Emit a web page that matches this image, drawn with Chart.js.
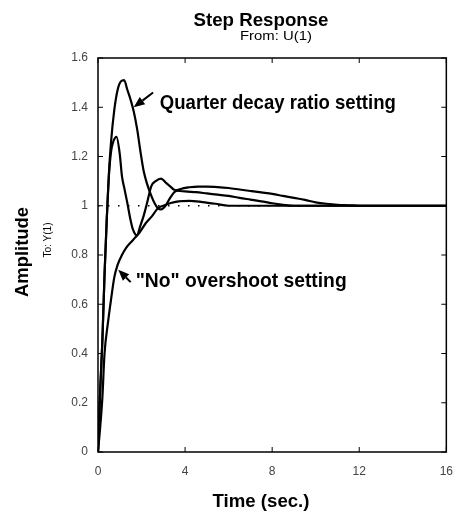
<!DOCTYPE html>
<html>
<head>
<meta charset="utf-8">
<script src="https://cdn.jsdelivr.net/npm/chart.js@4/dist/chart.umd.min.js"></script>
<style>
  html, body { margin: 0; padding: 0; background: #fff; }
  canvas { display: block; }
</style>
</head>
<body>
<canvas id="stepChart" width="465" height="516"></canvas>
<script>
// Step response data
const timeQuarter = [0, 0.1, 0.2, 0.3, 0.4, 0.5, 0.6, 0.75, 0.9, 1.05, 1.2, 1.35, 1.5, 1.65, 1.8, 1.95, 2.1, 2.25, 2.45, 2.6, 2.75, 2.9, 3.1, 3.3, 3.5, 3.8, 4.2, 4.6, 5, 5.5, 6, 6.5, 7, 7.5, 8, 8.5, 9, 9.5, 10, 10.5, 11, 11.5, 12, 13, 14, 15, 16];
const ampQuarter  = [0, 0.25, 0.45, 0.72, 0.94, 1.13, 1.26, 1.39, 1.47, 1.505, 1.51, 1.47, 1.43, 1.38, 1.31, 1.22, 1.14, 1.09, 1.04, 1.01, 0.99, 0.985, 1.0, 1.03, 1.055, 1.068, 1.075, 1.078, 1.078, 1.076, 1.072, 1.066, 1.06, 1.054, 1.048, 1.04, 1.032, 1.024, 1.014, 1.008, 1.004, 1.002, 1.0, 1.0, 1.0, 1.0, 1.0];

const timeMid = [0, 0.1, 0.2, 0.3, 0.4, 0.5, 0.6, 0.7, 0.85, 1.0, 1.1, 1.2, 1.35, 1.5, 1.6, 1.78, 1.95, 2.1, 2.25, 2.45, 2.65, 2.9, 3.1, 3.3, 3.5, 4, 4.5, 5, 5.5, 6, 6.5, 7, 7.5, 8, 8.5, 9, 16];
const ampMid  = [0, 0.25, 0.45, 0.72, 0.94, 1.12, 1.22, 1.26, 1.28, 1.21, 1.12, 1.075, 1.01, 0.94, 0.905, 0.88, 0.92, 0.96, 1.01, 1.08, 1.10, 1.11, 1.095, 1.08, 1.065, 1.058, 1.055, 1.05, 1.045, 1.04, 1.032, 1.025, 1.018, 1.01, 1.004, 1.0, 1.0];

const timeNoOver = [0, 0.1, 0.2, 0.3, 0.45, 0.6, 0.75, 0.9, 1.1, 1.3, 1.6, 1.9, 2.2, 2.5, 2.75, 3.0, 3.3, 3.7, 4.2, 4.8, 5.4, 6, 7, 16];
const ampNoOver  = [0, 0.1, 0.22, 0.4, 0.52, 0.62, 0.71, 0.76, 0.8, 0.83, 0.86, 0.89, 0.93, 0.96, 0.99, 1.0, 1.01, 1.018, 1.02, 1.015, 1.008, 1.0, 1.0, 1.0];

const refTime = [0, 16];
const refAmp = [1, 1];

const xTicks = [0, 4, 8, 12, 16];
const yTicks = [0, 0.2, 0.4, 0.6, 0.8, 1, 1.2, 1.4, 1.6];

const FONT = '"Liberation Sans", Arial, Helvetica, sans-serif';

function toPoints(xs, ys) {
    return xs.map((x, i) => ({ x: x, y: ys[i] }));
}

function curve(xs, ys) {
    return {
        data: toPoints(xs, ys),
        borderColor: '#000',
        borderWidth: 2.2,
        pointRadius: 0,
        cubicInterpolationMode: 'monotone',
        fill: false
    };
}

// draw text squeezed or stretched to a target width
function fitText(ctx, text, x, y, font, width, align, angle) {
    ctx.save();
    ctx.font = font;
    const sx = width / ctx.measureText(text).width;
    ctx.translate(x, y);
    if (angle) ctx.rotate(angle);
    ctx.scale(sx, 1);
    ctx.textAlign = align;
    ctx.textBaseline = 'alphabetic';
    ctx.fillStyle = '#000';
    ctx.fillText(text, 0, 0);
    ctx.restore();
}

function arrow(ctx, x1, y1, x2, y2) {
    const ang = Math.atan2(y2 - y1, x2 - x1);
    const head = 11, half = 4.5;
    ctx.save();
    ctx.strokeStyle = '#000';
    ctx.fillStyle = '#000';
    ctx.lineWidth = 2;
    ctx.beginPath();
    ctx.moveTo(x1, y1);
    ctx.lineTo(x2 - head * Math.cos(ang), y2 - head * Math.sin(ang));
    ctx.stroke();
    ctx.beginPath();
    ctx.moveTo(x2, y2);
    ctx.lineTo(x2 - head * Math.cos(ang) + half * Math.sin(ang), y2 - head * Math.sin(ang) - half * Math.cos(ang));
    ctx.lineTo(x2 - head * Math.cos(ang) - half * Math.sin(ang), y2 - head * Math.sin(ang) + half * Math.cos(ang));
    ctx.closePath();
    ctx.fill();
    ctx.restore();
}

const decorations = {
    id: 'decorations',
    afterDraw(chart) {
        const ctx = chart.ctx;
        const a = chart.chartArea;
        const xs = chart.scales.x, ys = chart.scales.y;

        // box and inward ticks, matlab style
        ctx.save();
        ctx.strokeStyle = '#000';
        ctx.lineWidth = 1.5;
        ctx.strokeRect(a.left, a.top, a.right - a.left, a.bottom - a.top);
        ctx.lineWidth = 1;
        ctx.beginPath();
        xTicks.forEach(v => {
            const px = xs.getPixelForValue(v);
            ctx.moveTo(px, a.bottom); ctx.lineTo(px, a.bottom - 5);
            ctx.moveTo(px, a.top); ctx.lineTo(px, a.top + 5);
        });
        yTicks.forEach(v => {
            const py = ys.getPixelForValue(v);
            ctx.moveTo(a.left, py); ctx.lineTo(a.left + 5, py);
            ctx.moveTo(a.right, py); ctx.lineTo(a.right - 5, py);
        });
        ctx.stroke();
        ctx.restore();

        // titles
        fitText(ctx, 'Step Response', 261, 26, 'bold 19px ' + FONT, 135, 'center');
        fitText(ctx, 'From: U(1)', 276, 40, '12px ' + FONT, 72, 'center');
        fitText(ctx, 'Time (sec.)', 261, 507, 'bold 18px ' + FONT, 97, 'center');
        fitText(ctx, 'Amplitude', 28, 252, 'bold 18px ' + FONT, 90, 'center', -Math.PI / 2);
        fitText(ctx, 'To: Y(1)', 51, 240, '11px ' + FONT, 35, 'center', -Math.PI / 2);

        // annotations
        arrow(ctx, xs.getPixelForValue(2.53), ys.getPixelForValue(1.46),
                   xs.getPixelForValue(1.64), ys.getPixelForValue(1.40));
        fitText(ctx, 'Quarter decay ratio setting', xs.getPixelForValue(2.84), ys.getPixelForValue(1.394),
                'bold 21px ' + FONT, 236, 'left');
        arrow(ctx, xs.getPixelForValue(1.5), ys.getPixelForValue(0.69),
                   xs.getPixelForValue(0.93), ys.getPixelForValue(0.74));
        fitText(ctx, '"No" overshoot setting', xs.getPixelForValue(1.73), ys.getPixelForValue(0.67),
                'bold 21px ' + FONT, 211, 'left');
    }
};

const refLine = {
    data: toPoints(refTime, refAmp),
    borderColor: '#000',
    borderWidth: 1.5,
    borderDash: [1.5, 8.5],
    pointRadius: 0,
    fill: false
};

new Chart(document.getElementById('stepChart'), {
    type: 'line',
    data: {
        datasets: [
            refLine,
            curve(timeNoOver, ampNoOver),
            curve(timeMid, ampMid),
            curve(timeQuarter, ampQuarter)
        ]
    },
    options: {
        responsive: false,
        animation: false,
        devicePixelRatio: 1,
        layout: { padding: { top: 58, right: 7, left: 0, bottom: 0 } },
        plugins: { legend: { display: false }, tooltip: { enabled: false } },
        scales: {
            x: {
                type: 'linear',
                min: 0, max: 16,
                afterFit: scale => { scale.height = 64; },
                afterBuildTicks: scale => { scale.ticks = xTicks.map(v => ({ value: v })); },
                grid: { display: false, drawTicks: false },
                border: { display: false },
                ticks: { color: '#444', font: { family: FONT, size: 12 }, padding: 12, maxRotation: 0 }
            },
            y: {
                min: 0, max: 1.6,
                afterFit: scale => { scale.width = 98; },
                afterBuildTicks: scale => { scale.ticks = yTicks.map(v => ({ value: v })); },
                grid: { display: false, drawTicks: false },
                border: { display: false },
                ticks: {
                    color: '#444', font: { family: FONT, size: 12 }, padding: 10,
                    callback: v => String(Math.round(v * 10) / 10)
                }
            }
        }
    },
    plugins: [decorations]
});
</script>
</body>
</html>
